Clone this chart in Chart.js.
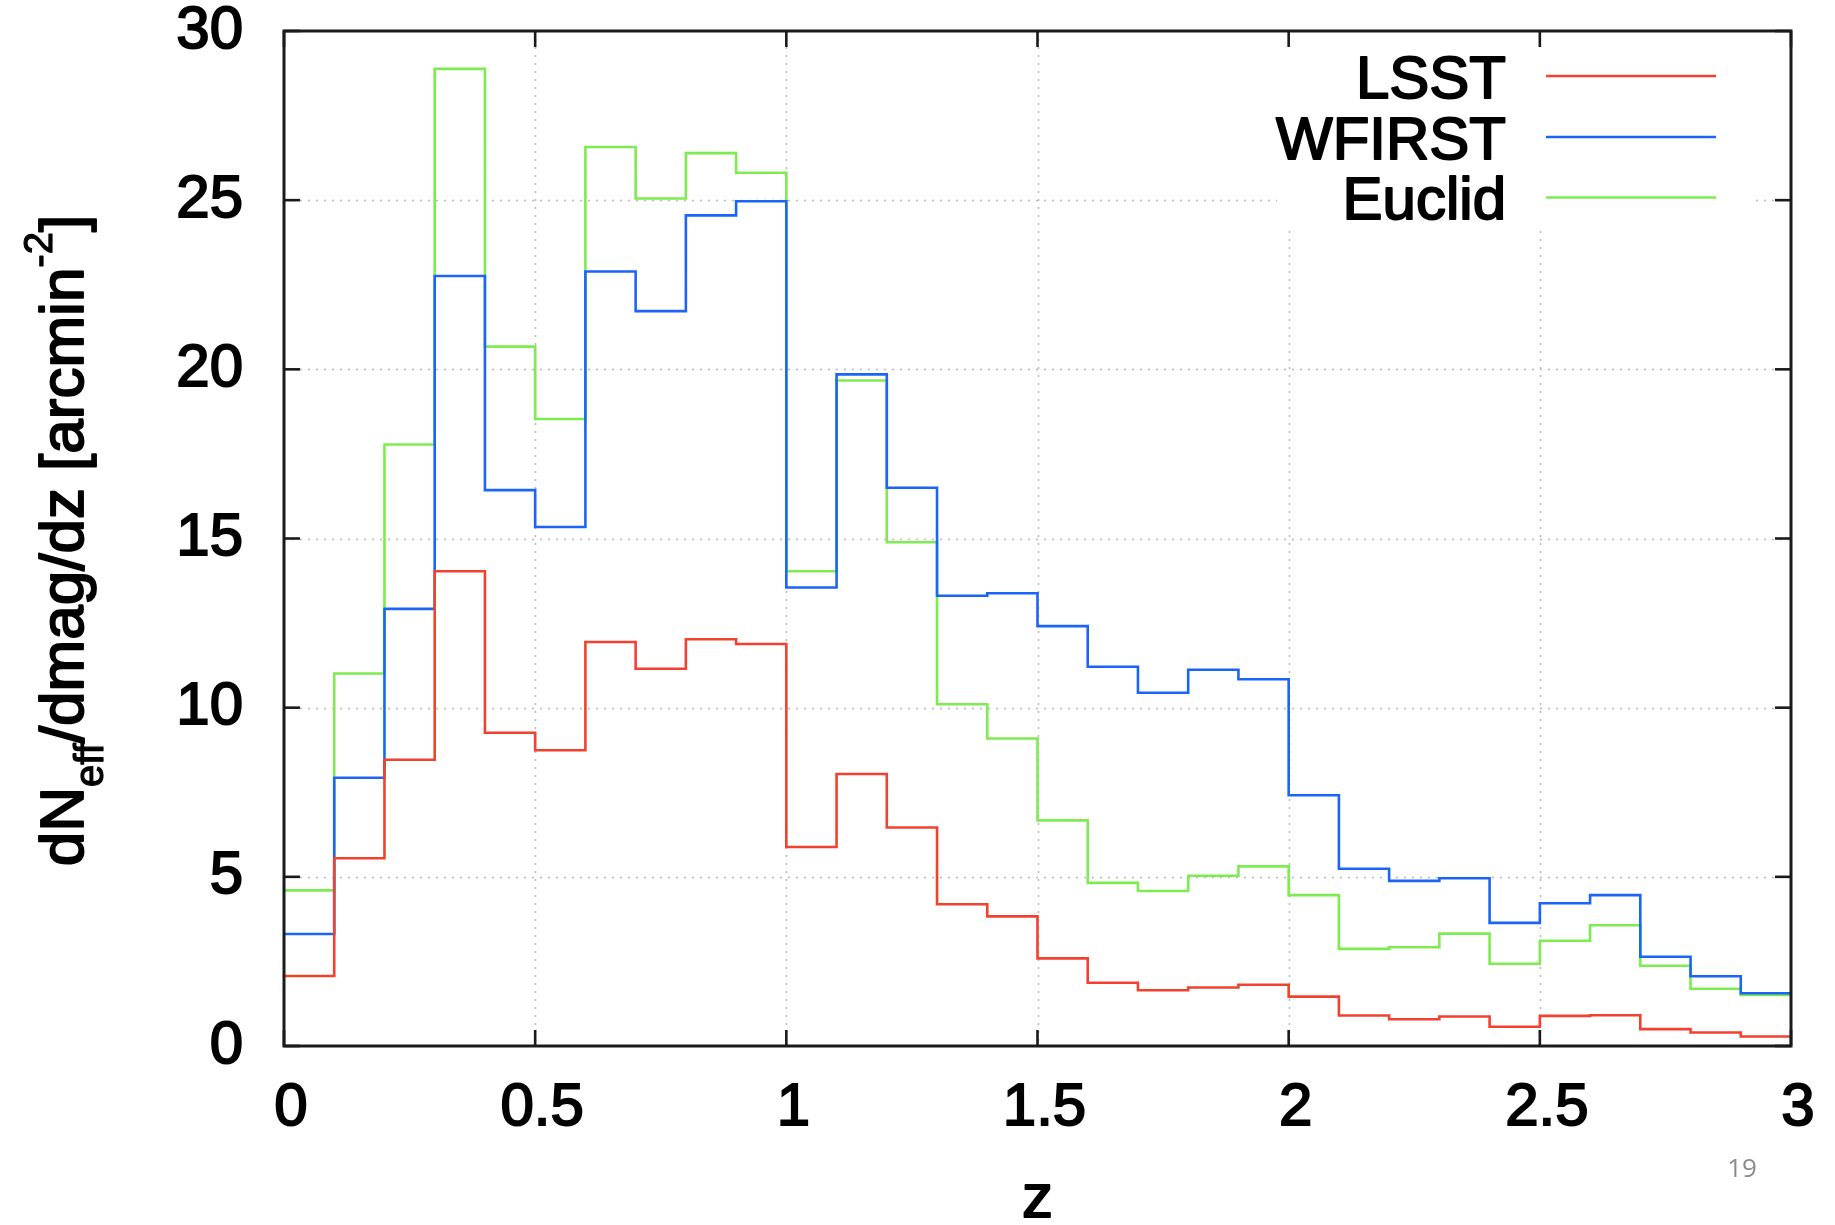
<!DOCTYPE html>
<html>
<head>
<meta charset="utf-8">
<script src="https://cdn.jsdelivr.net/npm/chart.js@4.4.1/dist/chart.umd.min.js"></script>
<style>
  html, body { margin: 0; padding: 0; background: #ffffff; }
  canvas { display: block; }
</style>
</head>
<body>
<canvas id="c" width="1835" height="1225"></canvas>
<script>
// ---- data ----
const binEdges = [0.0, 0.1, 0.2, 0.3, 0.4, 0.5, 0.6, 0.7, 0.8, 0.9, 1.0, 1.1, 1.2, 1.3, 1.4, 1.5,
                  1.6, 1.7, 1.8, 1.9, 2.0, 2.1, 2.2, 2.3, 2.4, 2.5, 2.6, 2.7, 2.8, 2.9, 3.0];
const seriesNames = ['LSST', 'WFIRST', 'Euclid'];
const lsst   = [2.07, 5.55, 8.46, 14.03, 9.26, 8.74, 11.94, 11.15, 12.02, 11.88,
                5.88, 8.04, 6.46, 4.19, 3.83, 2.59, 1.87, 1.65, 1.73, 1.81,
                1.46, 0.90, 0.79, 0.87, 0.57, 0.89, 0.91, 0.50, 0.40, 0.28];
const wfirst = [3.31, 7.93, 12.92, 22.76, 16.43, 15.34, 22.89, 21.72, 24.55, 24.97,
                13.55, 19.85, 16.50, 13.31, 13.38, 12.41, 11.21, 10.44, 11.12, 10.84,
                7.41, 5.24, 4.88, 4.96, 3.64, 4.22, 4.46, 2.64, 2.06, 1.56];
const euclid = [4.60, 11.01, 17.78, 28.88, 20.67, 18.53, 26.57, 25.05, 26.39, 25.81,
                14.03, 19.67, 14.89, 10.10, 9.09, 6.67, 4.82, 4.58, 5.03, 5.31,
                4.46, 2.87, 2.92, 3.32, 2.43, 3.11, 3.57, 2.37, 1.69, 1.51];
const xTickValues = [0, 0.5, 1, 1.5, 2, 2.5, 3];
const xTickLabels = ['0', '0.5', '1', '1.5', '2', '2.5', '3'];
const yTickValues = [0, 5, 10, 15, 20, 25, 30];
const yTickLabels = ['0', '5', '10', '15', '20', '25', '30'];
const xTitle = 'z';
const pageNumber = '19';

// ---- styles ----
const colors = ['#f2412f', '#1c63f7', '#7cec50'];
const FONT = '"Liberation Sans", Arial, Helvetica, sans-serif';
const STROKE = 1.9;

function stepData(values) {
  const pts = values.map((v, i) => ({ x: binEdges[i], y: v }));
  pts.push({ x: binEdges[binEdges.length - 1], y: values[values.length - 1] });
  return pts;
}

const allSeries = [lsst, wfirst, euclid];

function drawRich(ctx, text, x, y, size, align, strokeW) {
  ctx.font = size + 'px ' + FONT;
  ctx.textAlign = align;
  ctx.textBaseline = 'alphabetic';
  ctx.fillText(text, x, y);
  if (strokeW > 0) { ctx.lineWidth = strokeW; ctx.lineJoin = 'round'; ctx.strokeText(text, x, y); }
}

const decor = {
  id: 'decor',
  beforeDatasetsDraw(chart) {
    const ctx = chart.ctx, a = chart.chartArea;
    const xs = chart.scales.x, ys = chart.scales.y;
    ctx.save();
    ctx.strokeStyle = '#b9b9b9';
    ctx.lineWidth = 1.6;
    ctx.setLineDash([2, 6]);
    yTickValues.forEach(v => {
      if (v === yTickValues[0] || v === yTickValues[yTickValues.length - 1]) return;
      const y = Math.round(ys.getPixelForValue(v)) + 0.5;
      ctx.beginPath(); ctx.moveTo(a.left, y); ctx.lineTo(a.right, y); ctx.stroke();
    });
    xTickValues.forEach(v => {
      if (v === xTickValues[0] || v === xTickValues[xTickValues.length - 1]) return;
      const x = Math.round(xs.getPixelForValue(v)) + 0.5;
      ctx.beginPath(); ctx.moveTo(x, a.top); ctx.lineTo(x, a.bottom); ctx.stroke();
    });
    // key area cleared like gnuplot
    ctx.setLineDash([]);
    ctx.fillStyle = '#ffffff';
    ctx.fillRect(a.right - 514, a.top + 1, 475, 195);
    ctx.restore();
  },
  afterDatasetsDraw(chart) {
    const ctx = chart.ctx, a = chart.chartArea;
    const xs = chart.scales.x, ys = chart.scales.y;
    ctx.save();
    // frame
    ctx.strokeStyle = '#1a1a1a';
    ctx.lineWidth = 3;
    ctx.strokeRect(a.left, a.top, a.right - a.left, a.bottom - a.top);
    // inward ticks on all sides
    ctx.lineWidth = 2.6;
    const tl = 16;
    yTickValues.forEach(v => {
      const y = ys.getPixelForValue(v);
      ctx.beginPath(); ctx.moveTo(a.left, y); ctx.lineTo(a.left + tl, y); ctx.stroke();
      ctx.beginPath(); ctx.moveTo(a.right, y); ctx.lineTo(a.right - tl, y); ctx.stroke();
    });
    xTickValues.forEach(v => {
      const x = xs.getPixelForValue(v);
      ctx.beginPath(); ctx.moveTo(x, a.bottom); ctx.lineTo(x, a.bottom - tl); ctx.stroke();
      ctx.beginPath(); ctx.moveTo(x, a.top); ctx.lineTo(x, a.top + tl); ctx.stroke();
    });

    // legend (key)
    ctx.fillStyle = '#000000';
    ctx.strokeStyle = '#000000';
    const keyTextX = a.right - 285;
    const rowY = [a.top + 45, a.top + 106, a.top + 166.5];
    seriesNames.forEach((name, i) => {
      ctx.strokeStyle = '#000000';
      drawRich(ctx, name, keyTextX, rowY[i] + 21.5, 60, 'right', STROKE);
      ctx.save();
      ctx.strokeStyle = colors[i];
      ctx.lineWidth = 2.5;
      ctx.beginPath();
      ctx.moveTo(a.right - 245, rowY[i]);
      ctx.lineTo(a.right - 75, rowY[i]);
      ctx.stroke();
      ctx.restore();
    });

    // x title
    ctx.fillStyle = '#000000';
    ctx.strokeStyle = '#000000';
    drawRich(ctx, xTitle, (a.left + a.right) / 2, 1217, 62, 'center', STROKE);

    // y title with subscript / superscript
    const segs = [
      { t: 'dN', s: 62, dy: 0 },
      { t: 'eff', s: 40, dy: 20 },
      { t: '/dmag/dz [arcmin', s: 62, dy: 0 },
      { t: '-2', s: 40, dy: -31 },
      { t: ']', s: 62, dy: 0 }
    ];
    let W = 0;
    segs.forEach(sg => { ctx.font = sg.s + 'px ' + FONT; sg.w = ctx.measureText(sg.t).width; W += sg.w; });
    ctx.save();
    ctx.translate(83, (a.top + a.bottom) / 2 + 2);
    ctx.rotate(-Math.PI / 2);
    let cx = -W / 2;
    segs.forEach(sg => {
      drawRich(ctx, sg.t, cx, sg.dy, sg.s, 'left', sg.s > 50 ? STROKE : 1.2);
      cx += sg.w;
    });
    ctx.restore();

    // page number
    ctx.fillStyle = '#8c8c8c';
    ctx.font = '26px "Open Sans", "Liberation Sans", sans-serif';
    ctx.textAlign = 'center';
    ctx.textBaseline = 'alphabetic';
    ctx.fillText(pageNumber, 1742, 1177);
    ctx.restore();
  }
};

const chart = new Chart(document.getElementById('c'), {
  type: 'line',
  data: {
    datasets: seriesNames.map((name, i) => ({
      label: name,
      data: stepData(allSeries[i]),
      borderColor: colors[i],
      backgroundColor: colors[i],
      borderWidth: 2.6,
      pointRadius: 0,
      pointHoverRadius: 0,
      fill: false,
      stepped: true,
      tension: 0
    }))
  },
  options: {
    responsive: false,
    animation: false,
    devicePixelRatio: 1,
    layout: { padding: { left: 0, top: 31, right: 44, bottom: 0 } },
    plugins: { legend: { display: false }, tooltip: { enabled: false } },
    events: [],
    scales: {
      x: {
        type: 'linear',
        min: 0, max: 3,
        afterBuildTicks(s) { s.ticks = xTickValues.map(v => ({ value: v })); },
        afterFit(s) { s.height = 179; s.paddingLeft = 0; s.paddingRight = 0; s.paddingTop = 0; s.paddingBottom = 0; },
        grid: { display: false, drawTicks: false },
        border: { display: false },
        ticks: {
          autoSkip: false, maxRotation: 0, minRotation: 0,
          padding: 26,
          labelOffset: 7,
          color: '#000000',
          textStrokeColor: '#000000',
          textStrokeWidth: STROKE,
          font: { family: FONT, size: 60 },
          callback(v) { const i = xTickValues.indexOf(v); return i >= 0 ? xTickLabels[i] : ''; }
        }
      },
      y: {
        type: 'linear',
        min: 0, max: 30,
        afterBuildTicks(s) { s.ticks = yTickValues.map(v => ({ value: v })); },
        afterFit(s) { s.width = 284; s.paddingLeft = 0; s.paddingRight = 0; s.paddingTop = 0; s.paddingBottom = 0; },
        grid: { display: false, drawTicks: false },
        border: { display: false },
        ticks: {
          autoSkip: false,
          padding: 41,
          color: '#000000',
          textStrokeColor: '#000000',
          textStrokeWidth: STROKE,
          font: { family: FONT, size: 60 },
          callback(v) { const i = yTickValues.indexOf(v); return i >= 0 ? yTickLabels[i] : ''; }
        }
      }
    }
  },
  plugins: [decor]
});
</script>
</body>
</html>
